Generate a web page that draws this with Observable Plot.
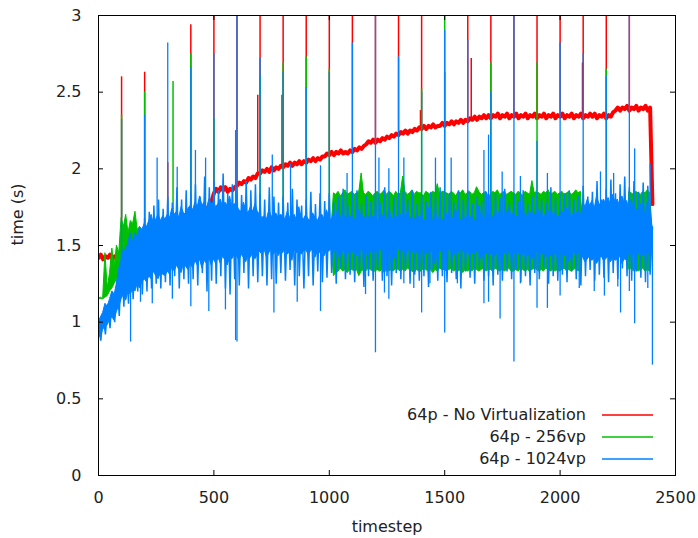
<!DOCTYPE html>
<html>
<head>
<meta charset="utf-8">
<script src="https://cdn.jsdelivr.net/npm/d3@7"></script>
<script src="https://cdn.jsdelivr.net/npm/@observablehq/plot@0.6"></script>
<style>
  html, body { margin: 0; padding: 0; background: #fff; }
</style>
</head>
<body>
<div id="wrap"></div>
<script>
// ---- data: timestep step = 10, t = 0 .. 2400 ----
const seriesNames = ["64p - No Virtualization", "64p - 256vp", "64p - 1024vp"];
const seriesColors = ["#ff0000", "#00c000", "#0080ff"];
const xTicks = [0, 500, 1000, 1500, 2000, 2500];
const yTicks = [0, 0.5, 1, 1.5, 2, 2.5, 3];

// 64p - No Virtualization (thick band)
const redVals = [
  1.42,1.44,1.41,1.43,1.42,1.44,1.41,1.43,1.42,1.44,
  1.42,1.44,1.43,1.45,1.46,1.48,1.47,1.49,1.50,1.52,
  1.53,1.55,1.54,1.56,1.55,1.57,1.56,1.58,1.59,1.60,
  1.60,1.62,1.61,1.63,1.62,1.64,1.63,1.65,1.66,1.67,
  1.67,1.69,1.68,1.70,1.69,1.71,1.72,1.74,1.76,1.79,
  1.84,1.87,1.85,1.88,1.86,1.88,1.85,1.87,1.86,1.88,
  1.89,1.91,1.90,1.92,1.91,1.94,1.93,1.95,1.94,1.97,
  1.97,1.99,1.98,2.00,1.98,2.01,1.99,2.01,2.00,2.02,
  2.01,2.03,2.02,2.04,2.02,2.04,2.03,2.05,2.03,2.05,
  2.04,2.06,2.05,2.07,2.05,2.07,2.06,2.08,2.08,2.10,
  2.09,2.11,2.09,2.11,2.10,2.12,2.10,2.11,2.10,2.12,
  2.11,2.13,2.12,2.14,2.13,2.15,2.16,2.18,2.17,2.19,
  2.17,2.19,2.18,2.20,2.19,2.21,2.20,2.22,2.21,2.23,
  2.22,2.24,2.23,2.25,2.23,2.25,2.24,2.26,2.25,2.27,
  2.26,2.28,2.26,2.28,2.27,2.29,2.27,2.28,2.28,2.30,
  2.28,2.30,2.29,2.31,2.29,2.31,2.30,2.32,2.30,2.32,
  2.31,2.33,2.32,2.34,2.32,2.34,2.33,2.35,2.33,2.35,
  2.33,2.35,2.34,2.36,2.33,2.35,2.34,2.36,2.33,2.35,
  2.34,2.36,2.33,2.35,2.34,2.36,2.33,2.35,2.34,2.36,
  2.33,2.35,2.34,2.36,2.33,2.35,2.34,2.36,2.33,2.35,
  2.34,2.36,2.33,2.35,2.34,2.36,2.33,2.35,2.34,2.36,
  2.33,2.35,2.34,2.36,2.34,2.36,2.33,2.35,2.34,2.36,
  2.33,2.35,2.34,2.37,2.38,2.40,2.38,2.40,2.39,2.41,
  2.38,2.40,2.39,2.41,2.38,2.40,2.39,2.41,2.38,2.40,
  1.77
];

// 64p - 256vp: upper / lower extent of the trace in each 10-timestep slot
const greenHi = [
  1.15,1.16,1.15,1.45,1.22,1.32,1.48,1.36,1.50,1.45,
  1.68,1.62,1.70,1.58,1.66,1.64,1.72,1.60,1.62,1.60,
  1.60,1.61,1.62,1.60,1.61,1.62,1.60,1.61,1.62,1.60,
  1.60,1.61,1.62,1.60,1.61,1.62,1.60,1.61,1.62,1.60,
  1.60,1.61,1.62,1.60,1.61,1.62,1.60,1.61,1.62,1.60,
  1.60,1.61,1.62,1.60,1.61,1.62,1.60,1.61,1.62,1.60,
  1.60,1.61,1.62,1.60,1.61,1.62,1.60,1.61,1.62,1.60,
  1.60,1.61,1.62,1.60,1.61,1.62,1.60,1.61,1.62,1.60,
  1.60,1.61,1.62,1.60,1.61,1.62,1.60,1.61,1.62,1.60,
  1.60,1.61,1.62,1.60,1.61,1.62,1.60,1.61,1.62,1.60,
  1.61,1.62,1.84,1.83,1.85,1.82,1.84,1.86,1.83,1.84,
  1.85,1.83,1.84,1.85,1.97,1.84,1.83,1.85,1.84,1.82,
  1.84,1.85,1.83,1.84,1.86,1.83,1.85,1.84,1.82,1.85,
  1.83,1.84,1.95,1.85,1.83,1.84,1.86,1.83,1.85,1.84,
  1.84,1.82,1.85,1.84,1.83,1.85,1.84,1.90,1.83,1.85,
  1.85,1.84,1.83,1.85,1.84,1.82,1.85,1.84,1.86,1.83,
  1.84,1.85,1.83,1.84,1.88,1.85,1.83,1.84,1.85,1.82,
  1.83,1.85,1.84,1.86,1.83,1.84,1.85,1.83,1.84,1.85,
  1.84,1.83,1.85,1.84,1.82,1.85,1.84,1.83,1.92,1.84,
  1.85,1.84,1.83,1.85,1.84,1.86,1.83,1.84,1.85,1.83,
  1.84,1.85,1.83,1.84,1.85,1.83,1.84,1.86,1.84,1.85,
  1.60,1.61,1.62,1.60,1.61,1.62,1.60,1.61,1.62,1.60,
  1.60,1.61,1.62,1.60,1.61,1.62,1.60,1.61,1.62,1.60,
  1.85,1.84,1.83,1.85,1.84,1.83,1.85,1.84,1.86,1.84,
  1.62
];
const greenLo = [
  1.15,1.15,1.15,1.16,1.17,1.20,1.22,1.25,1.28,1.30,
  1.32,1.35,1.33,1.36,1.38,1.36,1.40,1.42,1.45,1.48,
  1.50,1.51,1.52,1.50,1.51,1.52,1.50,1.51,1.52,1.50,
  1.50,1.51,1.52,1.50,1.51,1.52,1.50,1.51,1.52,1.50,
  1.50,1.51,1.52,1.50,1.51,1.52,1.50,1.51,1.52,1.50,
  1.50,1.51,1.52,1.50,1.51,1.52,1.50,1.51,1.52,1.50,
  1.50,1.51,1.52,1.50,1.51,1.52,1.50,1.51,1.52,1.50,
  1.50,1.51,1.52,1.50,1.51,1.52,1.50,1.51,1.52,1.50,
  1.50,1.51,1.52,1.50,1.51,1.52,1.50,1.51,1.52,1.50,
  1.50,1.51,1.52,1.50,1.51,1.52,1.50,1.51,1.52,1.50,
  1.51,1.50,1.30,1.32,1.33,1.35,1.33,1.34,1.32,1.34,
  1.34,1.33,1.34,1.30,1.33,1.34,1.33,1.35,1.34,1.33,
  1.33,1.34,1.33,1.34,1.32,1.34,1.33,1.34,1.33,1.35,
  1.34,1.33,1.34,1.33,1.35,1.34,1.33,1.32,1.34,1.33,
  1.33,1.35,1.34,1.33,1.34,1.32,1.34,1.33,1.35,1.34,
  1.34,1.33,1.34,1.35,1.33,1.34,1.33,1.34,1.32,1.34,
  1.33,1.34,1.33,1.35,1.34,1.33,1.34,1.35,1.33,1.34,
  1.34,1.33,1.35,1.34,1.33,1.34,1.33,1.34,1.35,1.33,
  1.33,1.34,1.33,1.35,1.34,1.33,1.34,1.33,1.34,1.35,
  1.34,1.33,1.34,1.33,1.35,1.34,1.33,1.34,1.33,1.34,
  1.33,1.34,1.35,1.33,1.34,1.33,1.34,1.35,1.33,1.34,
  1.50,1.51,1.52,1.50,1.51,1.52,1.50,1.51,1.52,1.50,
  1.50,1.51,1.52,1.50,1.51,1.52,1.50,1.51,1.52,1.50,
  1.34,1.35,1.33,1.34,1.33,1.34,1.35,1.33,1.34,1.33,
  1.50
];

// 64p - 1024vp: solid core (upper / lower) per 10-timestep slot
const blueHi = [
  1.00,1.03,1.06,1.12,1.10,1.15,1.20,1.18,1.25,1.35,
  1.40,1.48,1.45,1.52,1.58,1.52,1.58,1.55,1.62,1.60,
  1.64,1.62,1.66,1.70,1.64,1.67,1.70,1.66,1.69,1.67,
  1.70,1.68,1.74,1.70,1.72,1.68,1.75,1.71,1.70,1.74,
  1.76,1.73,1.78,1.75,1.82,1.76,1.78,1.74,1.80,1.77,
  1.78,1.75,1.77,1.80,1.74,1.78,1.76,1.82,1.75,1.77,
  1.76,1.73,1.72,1.78,1.73,1.71,1.75,1.72,1.77,1.72,
  1.70,1.68,1.69,1.67,1.73,1.69,1.68,1.71,1.68,1.70,
  1.69,1.67,1.72,1.68,1.67,1.70,1.66,1.75,1.68,1.67,
  1.70,1.67,1.66,1.71,1.68,1.66,1.69,1.70,1.67,1.73,
  1.68,1.66,1.70,1.67,1.76,1.68,1.66,1.69,1.67,1.68,
  1.70,1.67,1.66,1.73,1.68,1.69,1.66,1.67,1.71,1.68,
  1.69,1.66,1.68,1.70,1.67,1.66,1.74,1.68,1.67,1.69,
  1.67,1.70,1.66,1.68,1.72,1.67,1.69,1.66,1.70,1.68,
  1.69,1.66,1.67,1.75,1.68,1.66,1.70,1.67,1.68,1.66,
  1.68,1.71,1.66,1.69,1.67,1.73,1.68,1.66,1.69,1.67,
  1.69,1.67,1.70,1.66,1.68,1.76,1.67,1.69,1.66,1.72,
  1.70,1.68,1.71,1.69,1.73,1.70,1.68,1.71,1.75,1.69,
  1.71,1.69,1.68,1.74,1.70,1.71,1.68,1.72,1.69,1.70,
  1.71,1.73,1.69,1.68,1.71,1.70,1.76,1.69,1.71,1.68,
  1.70,1.72,1.69,1.74,1.71,1.68,1.71,1.70,1.73,1.69,
  1.78,1.75,1.80,1.76,1.79,1.74,1.82,1.77,1.76,1.80,
  1.77,1.81,1.76,1.83,1.78,1.80,1.75,1.82,1.77,1.79,
  1.73,1.80,1.72,1.74,1.71,1.77,1.73,1.70,1.78,1.72,
  1.62
];
const blueLo = [
  0.92,0.90,0.95,0.97,0.98,1.02,1.03,1.01,1.07,1.10,
  1.15,1.18,1.14,1.20,1.18,1.22,1.20,1.25,1.22,1.26,
  1.28,1.26,1.30,1.28,1.33,1.30,1.28,1.32,1.31,1.30,
  1.33,1.31,1.36,1.33,1.37,1.34,1.32,1.38,1.36,1.34,
  1.38,1.35,1.40,1.37,1.41,1.35,1.40,1.38,1.42,1.37,
  1.41,1.38,1.42,1.38,1.43,1.40,1.37,1.42,1.41,1.44,
  1.43,1.40,1.44,1.42,1.39,1.44,1.42,1.45,1.41,1.44,
  1.46,1.44,1.47,1.42,1.45,1.48,1.44,1.47,1.43,1.46,
  1.45,1.48,1.44,1.46,1.40,1.47,1.45,1.48,1.44,1.46,
  1.47,1.44,1.46,1.48,1.42,1.46,1.45,1.48,1.43,1.47,
  1.46,1.48,1.45,1.47,1.45,1.39,1.47,1.46,1.44,1.48,
  1.45,1.47,1.43,1.46,1.48,1.45,1.47,1.41,1.46,1.45,
  1.47,1.45,1.48,1.46,1.44,1.47,1.45,1.48,1.40,1.46,
  1.48,1.45,1.47,1.43,1.46,1.48,1.45,1.47,1.46,1.42,
  1.46,1.48,1.44,1.47,1.45,1.48,1.38,1.46,1.47,1.45,
  1.47,1.45,1.48,1.46,1.43,1.47,1.45,1.48,1.46,1.45,
  1.46,1.43,1.45,1.44,1.46,1.45,1.41,1.45,1.44,1.46,
  1.44,1.45,1.43,1.46,1.44,1.39,1.45,1.44,1.46,1.43,
  1.45,1.44,1.46,1.42,1.44,1.46,1.43,1.45,1.41,1.44,
  1.46,1.43,1.44,1.45,1.42,1.46,1.43,1.44,1.45,1.42,
  1.44,1.46,1.43,1.45,1.39,1.44,1.46,1.43,1.45,1.44,
  1.42,1.39,1.41,1.43,1.40,1.42,1.38,1.41,1.43,1.40,
  1.41,1.43,1.39,1.42,1.40,1.41,1.43,1.38,1.41,1.40,
  1.46,1.44,1.45,1.42,1.44,1.46,1.43,1.45,1.44,1.45,
  1.45
];
// 64p - 1024vp: the fast up/down swings around the core (one value per slot)
const blueSwing = [
  0.97,0.88,1.05,0.92,1.12,0.96,1.20,1.00,1.28,1.04,
  1.45,1.10,1.50,1.12,1.58,1.15,1.55,1.20,1.62,1.18,
  1.68,1.20,1.72,1.22,1.76,1.25,1.80,1.22,1.74,1.26,
  1.82,1.24,1.78,1.30,1.88,1.22,1.80,1.28,1.86,1.25,
  1.84,1.28,1.90,1.24,1.82,1.32,1.95,1.20,1.88,1.27,
  1.92,1.25,1.86,1.30,1.97,1.22,1.84,1.18,1.90,1.28,
  1.88,1.24,1.83,1.32,1.92,1.22,1.86,1.30,1.90,1.26,
  1.84,1.30,1.80,1.24,1.88,1.28,1.82,1.25,1.78,1.32,
  1.82,1.27,1.78,1.34,1.87,1.24,1.80,1.30,1.76,1.22,
  1.80,1.30,1.85,1.24,1.77,1.33,1.84,1.26,1.79,1.29,
  1.84,1.32,1.78,1.25,1.82,1.35,1.87,1.28,1.76,1.31,
  1.81,1.26,1.86,1.33,1.77,1.23,1.83,1.30,1.79,1.27,
  1.84,1.34,1.78,1.27,1.88,1.30,1.76,1.24,1.82,1.32,
  1.78,1.28,1.85,1.35,1.80,1.25,1.86,1.31,1.77,1.27,
  1.83,1.30,1.79,1.23,1.85,1.34,1.81,1.27,1.88,1.30,
  1.79,1.26,1.84,1.32,1.78,1.28,1.86,1.22,1.80,1.33,
  1.86,1.29,1.77,1.25,1.82,1.35,1.79,1.27,1.85,1.30,
  1.78,1.24,1.84,1.31,1.81,1.27,1.87,1.33,1.78,1.28,
  1.83,1.34,1.79,1.26,1.86,1.30,1.77,1.24,1.82,1.32,
  1.85,1.28,1.80,1.35,1.78,1.25,1.88,1.30,1.81,1.27,
  1.79,1.31,1.84,1.26,1.86,1.33,1.80,1.28,1.83,1.24,
  1.89,1.30,1.82,1.34,1.85,1.27,1.92,1.31,1.80,1.29,
  1.87,1.26,1.93,1.32,1.84,1.28,1.90,1.35,1.95,1.30,
  1.88,1.27,1.92,1.33,1.85,1.29,1.91,1.26,1.89,1.31,
  1.62
];

// single-timestep excursions (spikes)
const redSpikeT   = [100, 200, 300, 400, 500, 600, 690, 700, 795, 800, 900, 1000, 1100, 1200, 1300, 1395, 1400, 1500, 1600, 1615, 1700, 1800, 1900, 2000, 2097, 2100, 2200, 2300];
const redSpikeTop = [2.60, 2.63, 2.04, 2.94, 3.2, 3.2, 2.48, 3.2, 2.48, 3.2, 3.2, 3.2, 3.2, 3.2, 3.2, 2.38, 3.2, 2.63, 3.2, 2.72, 3.2, 3.2, 3.2, 3.2, 2.69, 3.2, 3.2, 3.2];

const greenSpikeT   = [100, 200, 323, 400, 500, 700, 800, 900, 1000, 1400, 1500, 1700, 1900, 2200];
const greenSpikeTop = [2.35, 2.50, 2.57, 2.75, 2.33, 2.60, 2.69, 2.73, 2.65, 2.52, 3.2, 2.69, 2.69, 2.65];

const blueSpikeT = [
  100,139,182,200,233,254,300,320,341,400,
  420,464,478,500,550,594,600,700,753,760,
  800,832,861,900,962,1000,1077,1100,1157,1200,
  1215,1239,1258,1300,1323,1366,1400,1436,1460,1500,
  1528,1555,1600,1670,1690,1700,1740,1749,1800,1828,
  1900,1945,2000,2083,2100,2148,2175,2192,2200,2232,
  2250,2262,2300,2323,2380,2390,2400
];
const blueSpikeLo = [
  1.40,0.87,1.13,1.50,1.12,1.50,1.50,1.15,1.50,1.10,
  1.50,1.50,1.07,1.50,1.08,0.88,0.87,1.50,1.50,1.06,
  1.50,1.50,1.13,1.50,1.07,1.50,1.50,1.50,1.18,0.80,
  1.50,1.19,1.15,1.50,1.25,1.22,1.06,1.25,1.50,0.93,
  1.50,1.25,1.50,1.12,1.13,1.50,1.02,1.50,0.74,1.25,
  1.09,1.09,1.17,1.22,1.50,1.20,1.50,1.17,1.50,1.50,
  1.23,1.06,1.20,0.99,1.22,1.50,0.72
];
const blueSpikeHi = [
  2.32,1.40,1.50,2.35,1.50,2.07,2.82,1.50,2.01,2.66,
  2.12,2.07,1.50,2.75,1.50,2.25,3.20,2.72,2.09,1.50,
  2.63,2.03,1.50,2.53,2.02,2.63,1.97,2.82,1.50,3.20,
  2.07,1.50,2.00,2.73,2.07,1.50,2.50,1.50,2.07,2.90,
  2.07,1.50,2.84,2.12,2.22,2.50,1.50,1.98,3.20,1.95,
  2.18,1.97,2.82,1.50,2.75,1.50,1.98,1.50,2.60,1.97,
  1.50,1.50,3.20,2.13,1.50,2.03,1.62
];

// ---- tables ----
const STEP = 10;
const red = redVals.map((v, i) => ({t: i * STEP, v}));
const green = greenHi.map((v, i) => ({t: i * STEP, hi: v, lo: greenLo[i]}));
const blue = blueHi.map((v, i) => ({t: i * STEP, hi: v, lo: blueLo[i]}));
const blueSw = blueSwing.map((v, i) => ({t: i * STEP, v}));
const at = (vals, t) => vals[Math.min(vals.length - 1, Math.round(t / STEP))];
const redSpikes = redSpikeT.map((t, i) => ({t, lo: at(redVals, t), hi: redSpikeTop[i]}));
const greenSpikes = greenSpikeT.map((t, i) => ({t, lo: at(greenHi, t), hi: greenSpikeTop[i]}));
const blueSpikes = blueSpikeT.map((t, i) => ({t, lo: blueSpikeLo[i], hi: blueSpikeHi[i]}));

// ---- layout ----
const W = 698, H = 538, mL = 98, mR = 23, mT = 15, mB = 63;
const xMax = 2500, yMax = 3;
const tickPx = 5;
const tkX = tickPx * xMax / (W - mL - mR);
const tkY = tickPx * yMax / (H - mT - mB);
const ink = "#222";

const chart = Plot.plot({
  width: W, height: H,
  marginLeft: mL, marginRight: mR, marginTop: mT, marginBottom: mB,
  x: {domain: [0, xMax]},
  y: {domain: [0, yMax]},
  style: {fontFamily: "DejaVu Sans", fontSize: "16px", color: ink, background: "white", overflow: "visible"},
  marks: [
    Plot.line(red, {x: "t", y: "v", stroke: seriesColors[0], strokeWidth: 4, clip: true}),
    Plot.ruleX(redSpikes, {x: "t", y1: "lo", y2: "hi", stroke: seriesColors[0], strokeWidth: 1.5, clip: true}),
    Plot.areaY(green, {x: "t", y1: "lo", y2: "hi", fill: seriesColors[1], stroke: seriesColors[1], strokeWidth: 1, clip: true}),
    Plot.ruleX(greenSpikes, {x: "t", y1: "lo", y2: "hi", stroke: seriesColors[1], strokeWidth: 1.5, clip: true}),
    Plot.areaY(blue, {x: "t", y1: "lo", y2: "hi", fill: seriesColors[2], stroke: seriesColors[2], strokeWidth: 1, clip: true}),
    Plot.line(blueSw, {x: "t", y: "v", stroke: seriesColors[2], strokeWidth: 1.5, strokeLinejoin: "miter", strokeMiterlimit: 1, clip: true}),
    Plot.ruleX(blueSpikes, {x: "t", y1: "lo", y2: "hi", stroke: seriesColors[2], strokeWidth: 1.3, clip: true}),
    // inward ticks on all four sides
    Plot.ruleX(xTicks, {x: d => d, y1: 0, y2: tkY, stroke: "black"}),
    Plot.ruleX(xTicks, {x: d => d, y1: yMax - tkY, y2: yMax, stroke: "black"}),
    Plot.ruleY(yTicks, {y: d => d, x1: 0, x2: tkX, stroke: "black"}),
    Plot.ruleY(yTicks, {y: d => d, x1: xMax - tkX, x2: xMax, stroke: "black"}),
    Plot.axisX(xTicks, {tickSize: 0, tickPadding: 16, tickFormat: d => String(d), label: null, fill: ink}),
    Plot.axisY(yTicks, {tickSize: 0, tickPadding: 17, tickFormat: d => String(d), label: null, fill: ink}),
    Plot.text(["time (s)"], {text: d => d, frameAnchor: "left", dx: -81, rotate: -90, fill: ink}),
    Plot.text(["timestep"], {text: d => d, frameAnchor: "bottom", dy: 56, fill: ink}),
    Plot.frame({stroke: "black", strokeWidth: 1})
  ]
});

document.getElementById("wrap").appendChild(chart);

// legend inside the plot, bottom-right (gnuplot style)
const legendRight = 586, lineLeft = 602, lineLen = 51, rowY0 = 415, rowGap = 22;
const lg = d3.select(chart).append("g").attr("class", "legend");
seriesNames.forEach((name, i) => {
  const y = rowY0 + i * rowGap;
  lg.append("text")
    .attr("x", legendRight).attr("y", y).attr("dy", "0.32em")
    .attr("text-anchor", "end").attr("fill", ink)
    .text(name);
  lg.append("line")
    .attr("x1", lineLeft).attr("x2", lineLeft + lineLen)
    .attr("y1", y).attr("y2", y)
    .attr("stroke", seriesColors[i]).attr("stroke-width", 1.5);
});
</script>
</body>
</html>
